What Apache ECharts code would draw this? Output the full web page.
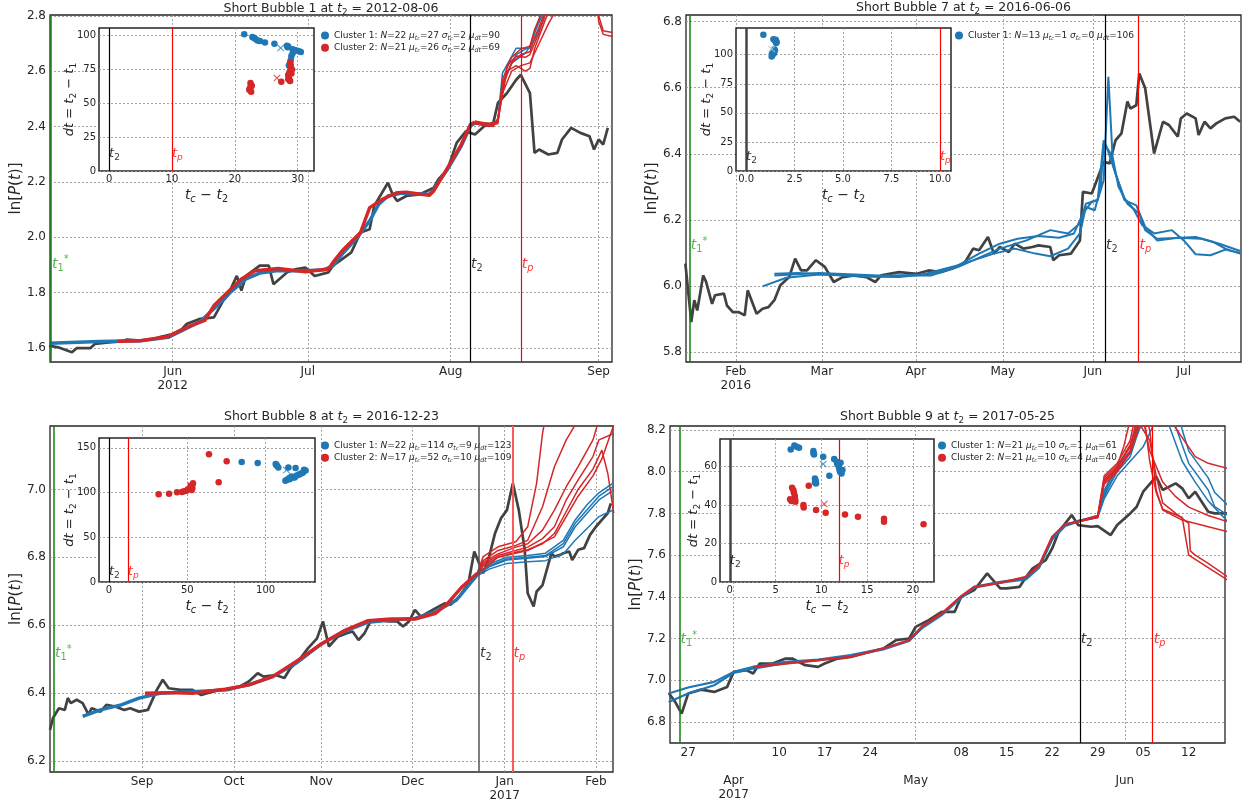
<!DOCTYPE html>
<html><head><meta charset="utf-8">
<script src="https://cdn.jsdelivr.net/npm/echarts@6.0.0/dist/echarts.min.js"></script>
<style>html,body{margin:0;padding:0;background:#fff;}#chart{width:1248px;height:805px;}</style>
</head><body><div id="chart"></div>
<script>
// ================= DATA =================
// ---- Panel 1: Short Bubble 1 ----
const p1_title = 'Short Bubble 1 at {i|t}{s|2} = 2012-08-06';
const p1_xLabelDates = ['2012-06-01','2012-06-30 12:00','2012-07-31 17:00','2012-09-02'];
const p1_xLabels = ['Jun\n2012','Jul','Aug','Sep'];
const p1_yTicks = [1.6,1.8,2.0,2.2,2.4,2.6,2.8];
const p1_events = {t1:'2012-05-05 10:00', t2:'2012-08-04 22:00', tp:'2012-08-16'};
const p1_price = [['2012-05-05',1.608],['2012-05-07',1.602],['2012-05-10',1.584],['2012-05-11',1.599],['2012-05-14',1.599],['2012-05-15',1.614],['2012-05-18',1.62],['2012-05-21',1.623],['2012-05-22',1.63],['2012-05-25',1.626],['2012-05-28',1.632],['2012-05-29',1.638],['2012-06-01',1.65],['2012-06-03',1.668],['2012-06-04',1.686],['2012-06-07',1.705],['2012-06-10',1.71],['2012-06-12',1.77],['2012-06-13',1.789],['2012-06-15',1.86],['2012-06-16',1.807],['2012-06-17',1.86],['2012-06-20',1.897],['2012-06-22',1.897],['2012-06-23',1.83],['2012-06-26',1.873],['2012-06-28',1.885],['2012-06-30',1.89],['2012-07-02',1.86],['2012-07-05',1.873],['2012-07-06',1.897],['2012-07-08',1.921],['2012-07-10',1.945],['2012-07-12',2.017],['2012-07-14',2.029],['2012-07-15',2.113],['2012-07-18',2.197],['2012-07-19',2.155],['2012-07-20',2.131],['2012-07-22',2.149],['2012-07-25',2.155],['2012-07-28',2.179],['2012-07-29',2.209],['2012-07-31',2.245],['2012-08-02',2.341],['2012-08-04',2.383],['2012-08-05',2.377],['2012-08-06',2.371],['2012-08-08',2.401],['2012-08-10',2.413],['2012-08-11',2.485],['2012-08-13',2.521],['2012-08-15',2.569],['2012-08-16',2.587],['2012-08-18',2.521],['2012-08-19',2.305],['2012-08-20',2.317],['2012-08-22',2.299],['2012-08-24',2.305],['2012-08-25',2.353],['2012-08-27',2.395],['2012-08-29',2.377],['2012-08-31',2.365],['2012-09-01',2.317],['2012-09-02',2.353],['2012-09-03',2.335],['2012-09-04',2.395]];
const p1_bluePre = [['2012-05-05',1.617],['2012-05-16',1.623],['2012-05-25',1.626],['2012-05-31',1.638],['2012-06-03',1.662],['2012-06-07',1.695],['2012-06-10',1.741],['2012-06-14',1.807],['2012-06-17',1.849],['2012-06-20',1.87],['2012-06-24',1.879],['2012-06-29',1.879],['2012-07-04',1.882],['2012-07-06',1.897],['2012-07-08',1.939],['2012-07-11',1.993],['2012-07-14',2.059],['2012-07-16',2.119],['2012-07-18',2.149],['2012-07-21',2.159],['2012-07-27',2.155],['2012-07-28',2.173],['2012-07-31',2.245],['2012-08-03',2.329],['2012-08-05',2.401],['2012-08-06',2.413]];
const p1_redPre = [['2012-05-20',1.624],['2012-05-25',1.626],['2012-05-31',1.641],['2012-06-04',1.674],['2012-06-08',1.699],['2012-06-10',1.753],['2012-06-13',1.801],['2012-06-16',1.849],['2012-06-19',1.879],['2012-06-24',1.887],['2012-06-30',1.875],['2012-07-05',1.885],['2012-07-06',1.909],['2012-07-08',1.951],['2012-07-12',2.017],['2012-07-14',2.107],['2012-07-17',2.139],['2012-07-20',2.161],['2012-07-22',2.163],['2012-07-27',2.151],['2012-07-28',2.167],['2012-07-31',2.251],['2012-08-03',2.335],['2012-08-05',2.407],['2012-08-06',2.416]];
const p1_bluePost1 = [['2012-08-06',2.413],['2012-08-10',2.411],['2012-08-11',2.425],['2012-08-12',2.593],['2012-08-15',2.683],['2012-08-18',2.683],['2012-08-19',2.744],['2012-08-21',2.81],['2012-08-22',2.88]];
const p1_bluePost2 = [['2012-08-06',2.41],['2012-08-10',2.405],['2012-08-11',2.42],['2012-08-12',2.545],['2012-08-14',2.629],['2012-08-17',2.665],['2012-08-19',2.713],['2012-08-21',2.786],['2012-08-22',2.86]];
const p1_bluePost3 = [['2012-08-06',2.415],['2012-08-10',2.408],['2012-08-11',2.42],['2012-08-12',2.56],['2012-08-15',2.66],['2012-08-18',2.69],['2012-08-20',2.78],['2012-08-21',2.85]];
const p1_redPost1 = [['2012-08-06',2.416],['2012-08-09',2.405],['2012-08-11',2.41],['2012-08-12',2.55],['2012-08-14',2.63],['2012-08-16',2.66],['2012-08-18',2.67],['2012-08-19',2.72],['2012-08-21',2.8],['2012-08-23',2.9]];
const p1_redPost2 = [['2012-08-06',2.41],['2012-08-09',2.4],['2012-08-11',2.415],['2012-08-12',2.52],['2012-08-14',2.6],['2012-08-16',2.62],['2012-08-18',2.63],['2012-08-20',2.7],['2012-08-22',2.77],['2012-08-24',2.83]];
const p1_redPost3 = [['2012-08-06',2.42],['2012-08-09',2.41],['2012-08-11',2.42],['2012-08-12',2.57],['2012-08-14',2.65],['2012-08-16',2.68],['2012-08-18',2.69],['2012-08-19',2.75],['2012-08-21',2.83]];
const p1_redPost4 = [['2012-08-06',2.41],['2012-08-10',2.4],['2012-08-11',2.43],['2012-08-13',2.6],['2012-08-15',2.62],['2012-08-17',2.6],['2012-08-18',2.61],['2012-08-19',2.68],['2012-08-21',2.77],['2012-08-23',2.86],['2012-08-26',2.95],['2012-08-31',2.95],['2012-09-02',2.8],['2012-09-03',2.746],['2012-09-05',2.74]];
const p1_redPost5 = [['2012-08-06',2.415],['2012-08-10',2.41],['2012-08-11',2.42],['2012-08-13',2.62],['2012-08-15',2.655],['2012-08-17',2.65],['2012-08-18',2.66],['2012-08-20',2.74],['2012-08-22',2.84],['2012-08-26',2.95],['2012-09-01',2.95],['2012-09-02',2.78],['2012-09-03',2.733],['2012-09-05',2.725]];
// inset 1
const in1_c1 = [[21.5,101],[22.8,99],[23.0,98.5],[23.3,97.5],[23.6,96.5],[24.0,96],[24.8,95],[26.3,94],[28.3,92.5],[28.4,91.5],[28.5,92],[29.2,90],[29.5,89.5],[29.8,89],[30.2,88.5],[30.5,88],[29.0,85],[28.9,82],[28.8,80],[29.2,87],[28.6,78],[29.3,88.5]];
const in1_c2 = [[22.3,60],[22.5,62],[22.5,65],[22.6,58.5],[22.4,61],[22.7,63],[28.8,80],[28.9,76],[28.7,73],[28.6,70],[28.5,68],[28.8,66.5],[29.0,72],[29.1,75],[28.5,71],[27.4,66],[28.7,67],[28.9,78]];
const in1_means = [[27.3,90.6],[26.7,68.5]];
const in1_stats = [[22,27,2,90],[21,26,2,69]];
const in1_xTicks = [0,10,20,30], in1_yTicks = [0,25,50,75,100], in1_tp = 10;

// ---- Panel 2: Short Bubble 7 ----
const p2_title = 'Short Bubble 7 at {i|t}{s|2} = 2016-06-06';
const p2_xLabelDates = ['2016-02-01','2016-03-01','2016-04-01 16:00','2016-05-01','2016-05-31 08:00','2016-07-01'];
const p2_xLabels = ['Feb\n2016','Mar','Apr','May','Jun','Jul'];
const p2_yTicks = [5.8,6.0,6.2,6.4,6.6,6.8];
const p2_events = {t1:'2016-01-16 12:00', t2:'2016-06-04 10:00', tp:'2016-06-15 17:00'};
const p2_price = [['2016-01-15',6.068],['2016-01-17',5.891],['2016-01-18',5.957],['2016-01-19',5.926],['2016-01-21',6.032],['2016-01-22',6.012],['2016-01-24',5.946],['2016-01-25',5.972],['2016-01-28',5.977],['2016-01-29',5.941],['2016-01-31',5.921],['2016-02-02',5.921],['2016-02-04',5.911],['2016-02-05',5.987],['2016-02-08',5.916],['2016-02-10',5.931],['2016-02-12',5.936],['2016-02-14',5.957],['2016-02-16',6.002],['2016-02-19',6.027],['2016-02-21',6.083],['2016-02-23',6.047],['2016-02-25',6.047],['2016-02-28',6.078],['2016-03-02',6.058],['2016-03-05',6.012],['2016-03-08',6.027],['2016-03-12',6.032],['2016-03-16',6.027],['2016-03-19',6.012],['2016-03-21',6.032],['2016-03-27',6.042],['2016-04-02',6.037],['2016-04-06',6.047],['2016-04-10',6.042],['2016-04-14',6.053],['2016-04-18',6.068],['2016-04-21',6.113],['2016-04-23',6.108],['2016-04-26',6.148],['2016-04-28',6.098],['2016-04-30',6.118],['2016-05-03',6.103],['2016-05-05',6.128],['2016-05-08',6.113],['2016-05-11',6.118],['2016-05-13',6.123],['2016-05-17',6.118],['2016-05-18',6.078],['2016-05-20',6.093],['2016-05-24',6.098],['2016-05-27',6.138],['2016-05-28',6.285],['2016-05-31',6.28],['2016-06-03',6.351],['2016-06-04',6.376],['2016-06-06',6.371],['2016-06-08',6.441],['2016-06-10',6.462],['2016-06-12',6.558],['2016-06-13',6.537],['2016-06-15',6.547],['2016-06-16',6.643],['2016-06-18',6.598],['2016-06-21',6.401],['2016-06-24',6.497],['2016-06-26',6.487],['2016-06-29',6.452],['2016-06-30',6.507],['2016-07-02',6.522],['2016-07-05',6.507],['2016-07-06',6.457],['2016-07-08',6.497],['2016-07-10',6.477],['2016-07-12',6.492],['2016-07-15',6.507],['2016-07-18',6.512],['2016-07-20',6.497]];
const p2_blue1 = [['2016-02-14',6.037],['2016-02-22',6.039],['2016-03-03',6.035],['2016-03-14',6.029],['2016-03-27',6.027],['2016-04-07',6.037],['2016-04-15',6.058],['2016-04-23',6.098],['2016-04-30',6.128],['2016-05-06',6.143],['2016-05-13',6.151],['2016-05-20',6.146],['2016-05-25',6.159],['2016-05-28',6.219],['2016-05-31',6.255],['2016-06-02',6.26],['2016-06-04',6.32],['2016-06-05 14:00',6.633],['2016-06-07',6.391],['2016-06-09',6.3],['2016-06-12',6.249],['2016-06-16',6.219],['2016-06-18',6.169],['2016-06-22',6.143],['2016-06-28',6.145],['2016-07-05',6.148],['2016-07-11',6.133],['2016-07-15',6.113],['2016-07-20',6.098]];
const p2_blue2 = [['2016-02-10',5.999],['2016-02-18',6.025],['2016-02-29',6.035],['2016-03-20',6.029],['2016-04-04',6.035],['2016-04-16',6.063],['2016-04-28',6.098],['2016-05-05',6.113],['2016-05-12',6.098],['2016-05-17',6.09],['2016-05-23',6.113],['2016-05-27',6.159],['2016-05-29',6.239],['2016-06-01',6.229],['2016-06-03',6.3],['2016-06-04',6.431],['2016-06-06',6.406],['2016-06-08',6.34],['2016-06-11',6.265],['2016-06-14',6.234],['2016-06-17',6.184],['2016-06-21',6.159],['2016-06-27',6.169],['2016-07-01',6.138],['2016-07-05',6.096],['2016-07-10',6.093],['2016-07-15',6.11],['2016-07-20',6.1]];
const p2_blue3 = [['2016-02-14',6.032],['2016-02-29',6.039],['2016-03-20',6.032],['2016-04-07',6.032],['2016-04-16',6.058],['2016-04-30',6.113],['2016-05-09',6.138],['2016-05-17',6.169],['2016-05-23',6.159],['2016-05-27',6.189],['2016-05-29',6.249],['2016-06-02',6.26],['2016-06-04',6.441],['2016-06-05',6.421],['2016-06-08',6.34],['2016-06-11',6.26],['2016-06-15',6.244],['2016-06-18',6.179],['2016-06-22',6.138],['2016-06-29',6.146],['2016-07-07',6.143],['2016-07-13',6.128],['2016-07-20',6.106]];
// inset 2
const in2_c1 = [[0.89,117.2],[1.41,113.4],[1.49,112.2],[1.55,110],[1.46,104.8],[1.41,102.7],[1.37,99.9],[1.32,98.4],[1.49,103.6],[1.58,111],[1.44,101.3],[1.34,101.3],[1.53,112.8]];
const in2_means = [[1.32,104.8]];
const in2_stats = [[13,1,0,106]];
const in2_xTicks = [0,2.5,5,7.5,10], in2_yTicks = [0,25,50,75,100], in2_tp = 10;

// ---- Panel 3: Short Bubble 8 ----
const p3_title = 'Short Bubble 8 at {i|t}{s|2} = 2016-12-23';
const p3_xLabelDates = ['2016-09-01','2016-10-02','2016-10-31 09:00','2016-12-01 06:00','2017-01-01 06:00','2017-02-01'];
const p3_xLabels = ['Sep','Oct','Nov','Dec','Jan\n2017','Feb'];
const p3_yTicks = [6.2,6.4,6.6,6.8,7.0];
const p3_events = {t1:'2016-08-02 08:00', t2:'2016-12-23 14:00', tp:'2017-01-03 22:00'};
const p3_price = [['2016-08-01',6.291],['2016-08-02',6.326],['2016-08-04',6.355],['2016-08-06',6.35],['2016-08-07',6.385],['2016-08-08',6.37],['2016-08-10',6.38],['2016-08-12',6.37],['2016-08-14',6.336],['2016-08-15',6.355],['2016-08-18',6.345],['2016-08-20',6.365],['2016-08-23',6.36],['2016-08-26',6.35],['2016-08-28',6.355],['2016-08-31',6.345],['2016-09-03',6.35],['2016-09-06',6.409],['2016-09-08',6.439],['2016-09-10',6.414],['2016-09-14',6.409],['2016-09-18',6.409],['2016-09-21',6.394],['2016-09-23',6.399],['2016-09-27',6.409],['2016-09-30',6.409],['2016-10-04',6.419],['2016-10-07',6.434],['2016-10-10',6.458],['2016-10-12',6.448],['2016-10-16',6.453],['2016-10-19',6.444],['2016-10-21',6.473],['2016-10-24',6.498],['2016-10-27',6.532],['2016-10-30',6.561],['2016-11-01',6.611],['2016-11-03',6.537],['2016-11-06',6.566],['2016-11-09',6.576],['2016-11-11',6.581],['2016-11-13',6.556],['2016-11-15',6.576],['2016-11-17',6.611],['2016-11-20',6.615],['2016-11-23',6.611],['2016-11-26',6.611],['2016-11-28',6.596],['2016-11-30',6.611],['2016-12-02',6.645],['2016-12-04',6.625],['2016-12-06',6.635],['2016-12-09',6.65],['2016-12-12',6.664],['2016-12-14',6.66],['2016-12-17',6.684],['2016-12-20',6.723],['2016-12-22',6.817],['2016-12-25',6.753],['2016-12-27',6.802],['2016-12-29',6.871],['2016-12-31',6.915],['2017-01-02',6.939],['2017-01-04',7.018],['2017-01-06',6.939],['2017-01-08',6.822],['2017-01-09',6.694],['2017-01-11',6.655],['2017-01-12',6.699],['2017-01-14',6.718],['2017-01-17',6.812],['2017-01-18',6.802],['2017-01-20',6.807],['2017-01-21',6.812],['2017-01-23',6.817],['2017-01-24',6.792],['2017-01-26',6.822],['2017-01-28',6.827],['2017-01-30',6.866],['2017-02-01',6.89],['2017-02-03',6.91],['2017-02-05',6.93],['2017-02-06',6.959]];
const p3_bluePre = [['2016-08-12',6.331],['2016-08-18',6.35],['2016-08-25',6.365],['2016-08-31',6.385],['2016-09-07',6.399],['2016-09-18',6.404],['2016-09-29',6.409],['2016-10-07',6.424],['2016-10-15',6.448],['2016-10-23',6.488],['2016-10-31',6.542],['2016-11-08',6.581],['2016-11-16',6.608],['2016-11-24',6.615],['2016-12-02',6.62],['2016-12-09',6.64],['2016-12-16',6.674],['2016-12-23',6.748]];
const p3_redPre = [['2016-09-02',6.399],['2016-09-10',6.401],['2016-09-18',6.399],['2016-09-29',6.411],['2016-10-07',6.424],['2016-10-15',6.448],['2016-10-23',6.493],['2016-10-31',6.542],['2016-11-08',6.583],['2016-11-16',6.613],['2016-11-24',6.618],['2016-12-02',6.618],['2016-12-09',6.635],['2016-12-13',6.664],['2016-12-18',6.714],['2016-12-23',6.753]];
const p3_bluePost1 = [['2016-12-23',6.748],['2016-12-27',6.772],['2017-01-02',6.792],['2017-01-09',6.797],['2017-01-15',6.802],['2017-01-21',6.831],['2017-01-25',6.89],['2017-01-29',6.93],['2017-02-02',6.969],['2017-02-07',6.998]];
const p3_bluePost2 = [['2016-12-23',6.745],['2016-12-27',6.765],['2017-01-02',6.782],['2017-01-09',6.787],['2017-01-15',6.79],['2017-01-21',6.81],['2017-01-25',6.85],['2017-01-29',6.885],['2017-02-02',6.92],['2017-02-07',6.94]];
const p3_bluePost3 = [['2016-12-23',6.75],['2016-12-27',6.78],['2017-01-02',6.8],['2017-01-09',6.805],['2017-01-15',6.812],['2017-01-21',6.85],['2017-01-25',6.91],['2017-01-29',6.955],['2017-02-02',6.99],['2017-02-07',7.02]];
const p3_bluePost4 = [['2016-12-23',6.748],['2016-12-27',6.775],['2017-01-02',6.795],['2017-01-09',6.8],['2017-01-15',6.805],['2017-01-21',6.84],['2017-01-25',6.9],['2017-01-29',6.94],['2017-02-02',6.98],['2017-02-07',7.01]];
const p3_redPost1 = [['2016-12-23',6.753],['2016-12-25',6.802],['2016-12-30',6.831],['2017-01-05',6.846],['2017-01-09',6.89],['2017-01-12',7.018],['2017-01-14',7.165],['2017-01-16',7.26]];
const p3_redPost2 = [['2016-12-23',6.753],['2016-12-25',6.79],['2016-12-30',6.82],['2017-01-05',6.835],['2017-01-09',6.85],['2017-01-14',6.949],['2017-01-18',7.067],['2017-01-22',7.146],['2017-01-26',7.205]];
const p3_redPost3 = [['2016-12-23',6.75],['2016-12-25',6.785],['2016-12-30',6.81],['2017-01-05',6.83],['2017-01-09',6.84],['2017-01-14',6.88],['2017-01-18',6.939],['2017-01-22',7.008],['2017-01-26',7.067],['2017-01-31',7.146],['2017-02-02',7.205]];
const p3_redPost4 = [['2016-12-23',6.75],['2016-12-25',6.78],['2016-12-30',6.805],['2017-01-05',6.82],['2017-01-09',6.83],['2017-01-14',6.855],['2017-01-18',6.89],['2017-01-22',6.969],['2017-01-26',7.028],['2017-01-31',7.097],['2017-02-02',7.146],['2017-02-07',7.165]];
const p3_redPost5 = [['2016-12-23',6.75],['2016-12-25',6.775],['2016-12-30',6.8],['2017-01-05',6.815],['2017-01-09',6.822],['2017-01-14',6.84],['2017-01-18',6.87],['2017-01-22',6.935],['2017-01-26',7.0],['2017-01-31',7.06],['2017-02-03',7.116],['2017-02-05',7.047],['2017-02-07',6.93]];
const p3_redPost6 = [['2016-12-23',6.75],['2016-12-30',6.8],['2017-01-09',6.82],['2017-01-18',6.86],['2017-01-26',6.98],['2017-01-31',7.04],['2017-02-03',7.09],['2017-02-05',7.14],['2017-02-07',7.19]];
// inset 3
const in3_c1 = [[84.7,134.2],[94.9,133],[106.4,131.9],[107.2,130],[108.1,128.1],[114.5,128.1],[119.1,127.4],[112.6,113.1],[115.3,115],[117.4,116.8],[119.6,118.7],[121.7,120.6],[123.8,122.5],[125.5,124.8],[118.5,116.8],[113.6,114.2],[116.4,118],[120.9,119.9],[124.5,125.5],[123,121.7],[106.8,131.2],[114.9,116]];
const in3_c2 = [[31.7,98],[38.3,98.7],[43.4,100.3],[46.6,100.6],[47.9,101.4],[49.4,102.1],[50.4,103.6],[51.5,104.4],[52.6,105.9],[53.2,108.5],[53.6,110.4],[53.2,104.8],[63.8,142.8],[75.1,134.9],[70.0,111.6],[52.1,107.4],[52.8,102.9]];
const in3_means = [[113.2,124.8],[52,108]];
const in3_stats = [[22,114,9,123],[17,52,10,109]];
const in3_xTicks = [0,50,100], in3_yTicks = [0,50,100,150], in3_tp = 12;

// ---- Panel 4: Short Bubble 9 ----
const p4_title = 'Short Bubble 9 at {i|t}{s|2} = 2017-05-25';
const p4_xDayDates = ['2017-03-27','2017-04-10','2017-04-17','2017-04-24','2017-05-08','2017-05-15','2017-05-22','2017-05-29','2017-06-05','2017-06-12'];
const p4_xDayLabels = ['27','10','17','24','08','15','22','29','05','12'];
const p4_xMonthDates = ['2017-04-03','2017-05-01','2017-06-02 04:00'];
const p4_xMonthLabels = ['Apr\n2017','May','Jun'];
const p4_yTicks = [6.8,7.0,7.2,7.4,7.6,7.8,8.0,8.2];
const p4_events = {t1:'2017-03-25 16:00', t2:'2017-05-26 06:00', tp:'2017-06-06 11:00'};
const p4_price = [['2017-03-24',6.939],['2017-03-25',6.896],['2017-03-26',6.84],['2017-03-27',6.936],['2017-03-29',6.955],['2017-03-31',6.944],['2017-04-02',6.968],['2017-04-03',7.04],['2017-04-05',7.048],['2017-04-06',7.032],['2017-04-07',7.08],['2017-04-09',7.08],['2017-04-11',7.104],['2017-04-12',7.104],['2017-04-14',7.072],['2017-04-16',7.064],['2017-04-17',7.08],['2017-04-19',7.104],['2017-04-21',7.112],['2017-04-23',7.128],['2017-04-26',7.152],['2017-04-28',7.192],['2017-04-30',7.2],['2017-05-01',7.256],['2017-05-03',7.288],['2017-05-05',7.328],['2017-05-07',7.328],['2017-05-08',7.4],['2017-05-10',7.432],['2017-05-11',7.472],['2017-05-12',7.512],['2017-05-14',7.44],['2017-05-15',7.44],['2017-05-17',7.448],['2017-05-18',7.496],['2017-05-19',7.536],['2017-05-21',7.576],['2017-05-22',7.632],['2017-05-23',7.712],['2017-05-25',7.792],['2017-05-26',7.744],['2017-05-28',7.736],['2017-05-29',7.739],['2017-05-31',7.696],['2017-06-01',7.744],['2017-06-03',7.8],['2017-06-04',7.832],['2017-06-05',7.904],['2017-06-07',7.976],['2017-06-08',7.912],['2017-06-10',7.944],['2017-06-11',7.92],['2017-06-12',7.872],['2017-06-13',7.904],['2017-06-15',7.808],['2017-06-16',7.8],['2017-06-18',7.8]];
const p4_bluePre1 = [['2017-03-24',6.936],['2017-03-27',6.965],['2017-03-31',6.992],['2017-04-03',7.04],['2017-04-06',7.064],['2017-04-11',7.088],['2017-04-16',7.099],['2017-04-21',7.12],['2017-04-26',7.152],['2017-04-30',7.192],['2017-05-02',7.256],['2017-05-05',7.317],['2017-05-08',7.4],['2017-05-10',7.448],['2017-05-14',7.472],['2017-05-18',7.488],['2017-05-20',7.544],['2017-05-22',7.68],['2017-05-24',7.744],['2017-05-26',7.765]];
const p4_bluePre2 = [['2017-03-24',6.896],['2017-03-27',6.936],['2017-03-31',6.976],['2017-04-03',7.035],['2017-04-06',7.056],['2017-04-11',7.082],['2017-04-16',7.095],['2017-04-21',7.116],['2017-04-26',7.148],['2017-04-30',7.188],['2017-05-02',7.25],['2017-05-05',7.312],['2017-05-08',7.395],['2017-05-10',7.444],['2017-05-14',7.468],['2017-05-18',7.484],['2017-05-20',7.54],['2017-05-22',7.675],['2017-05-24',7.74],['2017-05-26',7.76]];
const p4_redPre = [['2017-04-06',7.064],['2017-04-11',7.08],['2017-04-16',7.096],['2017-04-21',7.112],['2017-04-26',7.152],['2017-04-30',7.192],['2017-05-02',7.259],['2017-05-05',7.32],['2017-05-08',7.403],['2017-05-10',7.448],['2017-05-14',7.467],['2017-05-18',7.496],['2017-05-20',7.552],['2017-05-22',7.688],['2017-05-24',7.749],['2017-05-26',7.76]];
const p4_bluePost1 = [['2017-05-26',7.765],['2017-05-29',7.784],['2017-05-30',7.89],['2017-06-01',8.0],['2017-06-03',8.072],['2017-06-04',8.168],['2017-06-05',8.25]];
const p4_bluePost2 = [['2017-05-26',7.76],['2017-05-29',7.78],['2017-05-30',7.87],['2017-06-01',7.98],['2017-06-03',8.05],['2017-06-05',8.12],['2017-06-07',8.25]];
const p4_bluePost3 = [['2017-05-26',7.765],['2017-05-29',7.785],['2017-05-30',7.9],['2017-06-01',8.02],['2017-06-03',8.1],['2017-06-04',8.2],['2017-06-06',8.35],['2017-06-09',8.35],['2017-06-10',8.216],['2017-06-12',8.04],['2017-06-15',7.912],['2017-06-16',7.832],['2017-06-18',7.792]];
const p4_bluePost4 = [['2017-05-26',7.762],['2017-05-29',7.782],['2017-05-30',7.88],['2017-06-01',8.01],['2017-06-03',8.09],['2017-06-04',8.18],['2017-06-06',8.35],['2017-06-10',8.35],['2017-06-11',8.2],['2017-06-12',8.1],['2017-06-15',7.97],['2017-06-16',7.9],['2017-06-18',7.84]];
const p4_bluePost5 = [['2017-05-26',7.765],['2017-05-29',7.79],['2017-05-30',7.91],['2017-06-01',8.03],['2017-06-03',8.12],['2017-06-04',8.22],['2017-06-06',8.35],['2017-06-08',8.35],['2017-06-09',8.22],['2017-06-11',8.05],['2017-06-13',7.95],['2017-06-15',7.86],['2017-06-18',7.76]];
const p4_redPost1 = [['2017-05-26',7.76],['2017-05-29',7.78],['2017-05-30',7.97],['2017-06-01',8.03],['2017-06-02',8.12],['2017-06-03',8.25]];
const p4_redPost2 = [['2017-05-26',7.76],['2017-05-29',7.785],['2017-05-30',7.95],['2017-06-01',8.01],['2017-06-03',8.1],['2017-06-04',8.2],['2017-06-05',8.3],['2017-06-06',8.2],['2017-06-07',7.912],['2017-06-08',7.816],['2017-06-11',7.768],['2017-06-15',7.736],['2017-06-18',7.712]];
const p4_redPost3 = [['2017-05-26',7.765],['2017-05-29',7.78],['2017-05-30',7.96],['2017-06-01',8.02],['2017-06-03',8.12],['2017-06-04',8.25],['2017-06-06',8.15],['2017-06-07',7.98],['2017-06-08',7.85],['2017-06-10',7.8],['2017-06-12',7.752],['2017-06-12 06:00',7.62],['2017-06-13',7.6],['2017-06-15',7.56],['2017-06-18',7.496]];
const p4_redPost4 = [['2017-05-26',7.762],['2017-05-29',7.782],['2017-05-30',7.94],['2017-06-01',8.0],['2017-06-03',8.09],['2017-06-04',8.18],['2017-06-05',8.3],['2017-06-06',8.05],['2017-06-07',7.9],['2017-06-08',7.82],['2017-06-11',7.78],['2017-06-12',7.6],['2017-06-15',7.54],['2017-06-18',7.48]];
const p4_redPost5 = [['2017-05-26',7.76],['2017-05-29',7.79],['2017-05-30',7.98],['2017-06-01',8.04],['2017-06-03',8.15],['2017-06-04',8.3],['2017-06-08',8.3],['2017-06-13',8.072],['2017-06-15',8.04],['2017-06-18',8.016]];
const p4_redPost6 = [['2017-05-26',7.765],['2017-05-29',7.785],['2017-05-30',7.95],['2017-06-01',8.02],['2017-06-03',8.13],['2017-06-04',8.22],['2017-06-05',8.25],['2017-06-06',8.1],['2017-06-08',7.95],['2017-06-10',7.88],['2017-06-12',7.83],['2017-06-15',7.79],['2017-06-18',7.76]];
// inset 4
const in4_c1 = [[6.65,69],[7.05,71],[7.31,70.4],[7.56,69.9],[9.13,68.2],[9.13,67],[9.2,66.4],[10.2,65.2],[11.4,64],[11.67,62.6],[11.75,61.2],[11.9,60],[11.96,58.6],[12.04,57.4],[12.2,56.5],[12.3,58.3],[12.1,62.1],[9.3,53.9],[9.38,52.7],[9.42,51.3],[9.3,51.8],[10.87,55.3]];
const in4_c2 = [[6.8,49],[6.95,47.8],[7.0,46.4],[7.1,44.7],[7.13,43],[7.16,41.7],[6.73,42.1],[6.58,43],[8.04,40],[8.07,38.8],[8.62,50.1],[9.42,37.4],[10.47,36],[12.58,35.1],[14.0,33.9],[16.84,32.9],[16.84,31.3],[21.16,30.1]];
const in4_means = [[10.2,61.2],[10.3,40]];
const in4_stats = [[21,10,1,61],[21,10,4,40]];
const in4_xTicks = [0,5,10,15,20], in4_yTicks = [0,20,40,60], in4_tp = 11.9;

// ================= BUILD =================
const FONT='DejaVu Sans', TXT='#262626', BLUE='#1f77b4', RED='#d62728', PRICE='#424242';
const GL={type:[2,2], color:'#9a9a9a', width:0.9};
function pad(n){return String(n).padStart(2,'0');}
function ts(s){const m=s.match(/^(\d+)-(\d+)-(\d+)(?:\s+(\d+):(\d+))?/);return new Date(+m[1],+m[2]-1,+m[3],m[4]?+m[4]:0,m[5]?+m[5]:0).getTime();}
function dkey(v){const d=new Date(v);return d.getFullYear()+'-'+pad(d.getMonth()+1)+'-'+pad(d.getDate());}
const toXY=arr=>arr.map(p=>[ts(p[0]),p[1]]);
function mathRich(F,color){
  const c=color||TXT;
  return {
    i:{fontStyle:'italic',fontSize:F,lineHeight:F*1.3,color:c,fontFamily:FONT},
    s:{fontSize:F*0.7,lineHeight:F*0.72,verticalAlign:'bottom',color:c,fontFamily:FONT},
    si:{fontStyle:'italic',fontSize:F*0.7,lineHeight:F*0.72,verticalAlign:'bottom',color:c,fontFamily:FONT},
    ssi:{fontStyle:'italic',fontSize:F*0.55,lineHeight:F*0.42,verticalAlign:'bottom',color:c,fontFamily:FONT},
    sup:{fontSize:F*0.7,lineHeight:F*0.72,verticalAlign:'top',color:c,fontFamily:FONT}
  };
}
const option={animation:false,backgroundColor:'#fff',textStyle:{fontFamily:FONT},title:[],grid:[],xAxis:[],yAxis:[],legend:[],series:[]};

function addMain(P){
  const gi=option.grid.length;
  option.grid.push({left:P.box[0],top:P.box[1],width:P.box[2],height:P.box[3],show:true,borderColor:'#262626',borderWidth:1.3,backgroundColor:'#fff',z:0});
  const labelMap={}; P.labelDates.forEach((d,k)=>{labelMap[d.slice(0,10)]=P.labels[k];});
  option.xAxis.push({type:'value',gridIndex:gi,min:ts(P.xRange[0]),max:ts(P.xRange[1]),
    axisLine:{show:false},axisTick:{show:false,customValues:P.gridDates.map(ts)},
    splitLine:{show:true,lineStyle:GL},
    axisLabel:{customValues:P.labelDates.map(ts),formatter:v=>labelMap[dkey(v)]||'',fontSize:12,color:TXT,lineHeight:14,margin:3,hideOverlap:false}});
  option.yAxis.push({type:'value',gridIndex:gi,min:P.yRange[0],max:P.yRange[1],
    axisLine:{show:false},axisTick:{show:false,customValues:P.yTicks},
    splitLine:{show:true,lineStyle:GL},
    axisLabel:{customValues:P.yTicks,formatter:v=>v.toFixed(1),fontSize:12,color:TXT,margin:4},
    name:'ln[{i|P}({i|t})]',nameLocation:'middle',nameGap:24,nameMoveOverlap:false,
    nameTextStyle:{fontSize:15,color:TXT,rich:mathRich(15)}});
  option.title.push({text:P.title,left:P.box[0]+P.box[2]/2,top:P.titleTop,textAlign:'center',padding:0,
    textStyle:{fontSize:12.5,fontWeight:'normal',color:TXT,rich:mathRich(12.5)}});
  const L=(data,color,width,z)=>({type:'line',xAxisIndex:gi,yAxisIndex:gi,data:toXY(data),showSymbol:false,symbol:'none',lineStyle:{color,width},z,silent:true,clip:true});
  option.series.push(L(P.price,PRICE,2.7,2));
  P.bluePre.forEach(d=>option.series.push(L(d,BLUE,P.preW||3.4,3)));
  P.bluePost.forEach(d=>option.series.push(L(d,BLUE,1.5,3)));
  P.redPre.forEach(d=>option.series.push(L(d,RED,P.preW||3.4,4)));
  P.redPost.forEach(d=>option.series.push(L(d,RED,1.5,4)));
  const E=P.events;
  option.series.push({type:'line',xAxisIndex:gi,yAxisIndex:gi,data:[],z:5,silent:true,
    markLine:{z:5,symbol:['none','none'],silent:true,animation:false,label:{show:false},
      data:[{xAxis:ts(E.t1),lineStyle:{color:'#108010',width:1.5,type:'solid'}},
            {xAxis:ts(E.t2),lineStyle:{color:P.t2Color||'#000',width:P.t2W||1.2,type:'solid'}},
            {xAxis:ts(E.tp),lineStyle:{color:P.tpColor||'#ff0000',width:P.tpW||1.2,type:'solid'}}]}});
  const ann=(x,txt,color)=>({value:[ts(x),P.annY],label:{show:true,position:'right',distance:1,formatter:txt,color,fontSize:14,rich:mathRich(14,color)}});
  option.series.push({type:'scatter',xAxisIndex:gi,yAxisIndex:gi,symbolSize:0,z:6,silent:true,
    data:[ann(E.t1,'{i|t}{s|1}{sup|*}','#2ca02c'),ann(E.t2,'{i|t}{s|2}','#000'),ann(E.tp,'{i|t}{si|p}','#ff0000')]});
}

const clusterNames={};
function addInset(I){
  const gi=option.grid.length;
  option.grid.push({left:I.box[0],top:I.box[1],width:I.box[2],height:I.box[3],show:true,borderColor:'#262626',borderWidth:1.5,backgroundColor:'#fff',z:10});
  option.xAxis.push({type:'value',gridIndex:gi,min:I.xRange[0],max:I.xRange[1],z:11,
    axisLine:{show:false},axisTick:{show:false,customValues:I.xTicks},splitLine:{show:true,lineStyle:GL},
    axisLabel:{customValues:I.xTicks,formatter:I.xFmt,fontSize:10,color:TXT,margin:3},
    name:'{i|t}{si|c} − {i|t}{s|2}',nameLocation:'middle',nameGap:15,nameMoveOverlap:false,
    nameTextStyle:{fontSize:14,color:TXT,rich:mathRich(14)}});
  option.yAxis.push({type:'value',gridIndex:gi,min:I.yRange[0],max:I.yRange[1],z:11,
    axisLine:{show:false},axisTick:{show:false,customValues:I.yTicks},splitLine:{show:true,lineStyle:GL},
    axisLabel:{customValues:I.yTicks,formatter:v=>String(v),fontSize:10,color:TXT,margin:3},
    name:'{i|dt} = {i|t}{s|2} − {i|t}{s|1}',nameLocation:'middle',nameGap:I.yNameGap||21,nameMoveOverlap:false,
    nameTextStyle:{fontSize:13,color:TXT,rich:mathRich(13)}});
  const names=[];
  I.clusters.forEach((pts,k)=>{
    const st=I.stats[k];
    const nm=`Cluster ${k+1}: N=${st[0]} μtc=${st[1]} σtc=${st[2]} μdt=${st[3]}`;
    clusterNames[nm]=`Cluster ${k+1}: {i|N}=${st[0]} {i|μ}{si|t}{ssi|c}=${st[1]} {i|σ}{si|t}{ssi|c}=${st[2]} {i|μ}{si|dt}=${st[3]}`;
    names.push(nm);
    const col=k===0?BLUE:RED;
    option.series.push({type:'scatter',name:nm,xAxisIndex:gi,yAxisIndex:gi,data:pts,symbolSize:6.5,itemStyle:{color:col,opacity:1},z:12,silent:true});
    const mcol=I.meanColors?I.meanColors[k]:col;
    option.series.push({type:'scatter',xAxisIndex:gi,yAxisIndex:gi,data:[I.means[k]],symbolSize:0,z:13,silent:true,
      label:{show:true,position:'inside',formatter:'×',fontSize:13,color:mcol}});
  });
  option.series.push({type:'line',xAxisIndex:gi,yAxisIndex:gi,data:[],z:12,silent:true,
    markLine:{z:12,symbol:['none','none'],silent:true,animation:false,label:{show:false},
      data:[{xAxis:0,lineStyle:{color:I.t2Color||'#000',width:I.t2W||1.2,type:'solid'}},
            {xAxis:I.tp,lineStyle:{color:'#ff0000',width:1.2,type:'solid'}}]}});
  const ann=(x,txt,color)=>({value:[x,I.annY],label:{show:true,position:'right',distance:0,formatter:txt,color,fontSize:13,rich:mathRich(13,color)}});
  option.series.push({type:'scatter',xAxisIndex:gi,yAxisIndex:gi,symbolSize:0,z:13,silent:true,
    data:[ann(0,'{i|t}{s|2}','#000'),ann(I.tp,'{i|t}{si|p}','#ff0000')]});
  option.legend.push({data:names,left:I.legendPos[0],top:I.legendPos[1],orient:'vertical',itemGap:2,itemWidth:8,itemHeight:8,
    icon:'circle',selectedMode:false,padding:0,textStyle:{fontSize:9,color:TXT,rich:mathRich(9)},
    formatter:n=>clusterNames[n]});
}

addMain({box:[50,15,562,347],titleTop:1,title:p1_title,xRange:['2012-05-05 05:00','2012-09-04 22:00'],yRange:[1.549,2.803],
  labelDates:p1_xLabelDates,labels:p1_xLabels,gridDates:p1_xLabelDates,yTicks:p1_yTicks,events:p1_events,annY:1.903,
  price:p1_price,bluePre:[p1_bluePre],bluePost:[p1_bluePost1,p1_bluePost2,p1_bluePost3],redPre:[p1_redPre],redPost:[p1_redPost1,p1_redPost2,p1_redPost3,p1_redPost4,p1_redPost5]});
addMain({box:[686,15,555,347],titleTop:0,title:p2_title,xRange:['2016-01-15 05:00','2016-07-20 07:00'],yRange:[5.77,6.82],
  labelDates:p2_xLabelDates,labels:p2_xLabels,gridDates:p2_xLabelDates,yTicks:p2_yTicks,events:p2_events,annY:6.123,preW:2,
  price:p2_price,bluePre:[p2_blue1,p2_blue2,p2_blue3],bluePost:[],redPre:[],redPost:[]});
addMain({box:[50,426,563,346],titleTop:409,title:p3_title,xRange:['2016-08-01','2017-02-06 18:00'],yRange:[6.167,7.187],
  labelDates:p3_xLabelDates,labels:p3_xLabels,gridDates:p3_xLabelDates,yTicks:p3_yTicks,events:p3_events,annY:6.517,
  t2Color:'#555',t2W:1.5,tpColor:'#ff5a5a',tpW:2,
  price:p3_price,bluePre:[p3_bluePre],bluePost:[p3_bluePost1,p3_bluePost2,p3_bluePost3,p3_bluePost4],redPre:[p3_redPre],redPost:[p3_redPost1,p3_redPost2,p3_redPost3,p3_redPost4,p3_redPost5,p3_redPost6]});
addMain({box:[670,426,555,317],titleTop:409,title:p4_title,xRange:['2017-03-24 05:00','2017-06-17 14:00'],yRange:[6.699,8.219],
  labelDates:p4_xDayDates.concat(p4_xMonthDates),labels:p4_xDayLabels.concat(p4_xMonthLabels.map(s=>'\n\n'+s)),gridDates:p4_xMonthDates,
  yTicks:p4_yTicks,events:p4_events,annY:7.195,preW:2.2,
  price:p4_price,bluePre:[p4_bluePre1,p4_bluePre2],bluePost:[p4_bluePost1,p4_bluePost2,p4_bluePost3,p4_bluePost4,p4_bluePost5],redPre:[p4_redPre],redPost:[p4_redPost1,p4_redPost2,p4_redPost3,p4_redPost4,p4_redPost5,p4_redPost6]});

addInset({box:[99,28,215,143],xRange:[-1.6,32.6],yRange:[0,105.7],xTicks:in1_xTicks,yTicks:in1_yTicks,xFmt:v=>String(v),
  clusters:[in1_c1,in1_c2],means:in1_means,stats:in1_stats,tp:in1_tp,annY:13,legendPos:[321,31]});
addInset({box:[736,28,215,143],xRange:[-0.52,10.57],yRange:[0,123],xTicks:in2_xTicks,yTicks:in2_yTicks,xFmt:v=>v.toFixed(1),
  clusters:[in2_c1],means:in2_means,meanColors:['#9ecae1'],stats:in2_stats,tp:in2_tp,annY:12,legendPos:[955,31],t2Color:'#444',t2W:2.5});
addInset({box:[99,438,216,144],xRange:[-6.4,131.5],yRange:[0,161],xTicks:in3_xTicks,yTicks:in3_yTicks,xFmt:v=>String(v),
  clusters:[in3_c1,in3_c2],means:in3_means,stats:in3_stats,tp:in3_tp,annY:12,legendPos:[321,441]});
addInset({box:[720,439,214,143],xRange:[-1.07,22.3],yRange:[0,74.4],xTicks:in4_xTicks,yTicks:in4_yTicks,xFmt:v=>String(v),
  clusters:[in4_c1,in4_c2],means:in4_means,stats:in4_stats,tp:in4_tp,annY:11,legendPos:[938,441],t2Color:'#444',t2W:2.5,yNameGap:18});

const chart=echarts.init(document.getElementById('chart'),null,{renderer:'canvas'});
chart.setOption(option);
</script></body></html>
